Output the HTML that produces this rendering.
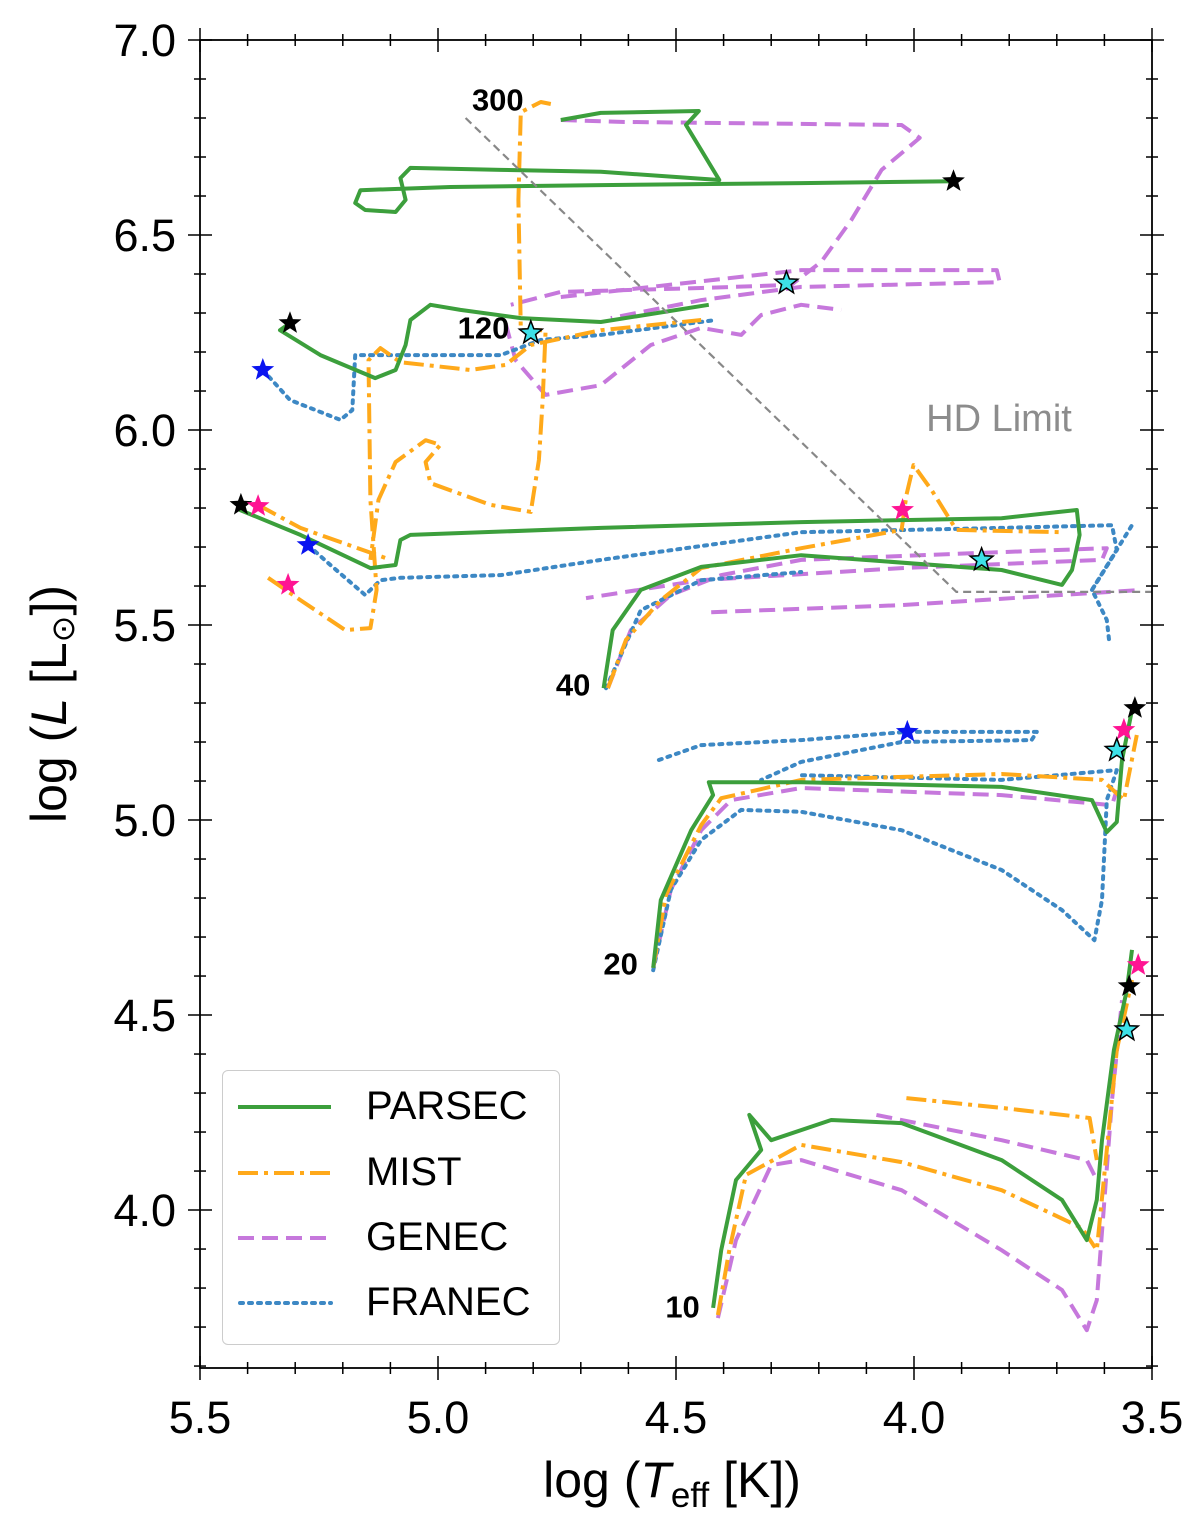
<!DOCTYPE html>
<html><head><meta charset="utf-8"><style>
body{margin:0;background:#fff;}
svg{display:block;font-family:"Liberation Sans","DejaVu Sans",sans-serif;}
</style></head><body>
<svg id="chart" width="1200" height="1519" viewBox="0 0 1200 1519"></svg>
<script>
// ---- data (logTeff, logL) ----
const xTicks = [5.5, 5.0, 4.5, 4.0, 3.5];
const xTickLabels = ["5.5", "5.0", "4.5", "4.0", "3.5"];
const yTicks = [4.0, 4.5, 5.0, 5.5, 6.0, 6.5, 7.0];
const yTickLabels = ["4.0", "4.5", "5.0", "5.5", "6.0", "6.5", "7.0"];

const parsec300 = [[3.917,6.638],[4.237,6.633],[4.658,6.628],[4.974,6.623],[5.163,6.615],[5.174,6.582],[5.153,6.564],[5.089,6.559],[5.068,6.590],[5.079,6.646],[5.058,6.672],[4.868,6.667],[4.658,6.662],[4.409,6.641],[4.447,6.718],[4.479,6.782],[4.452,6.818],[4.658,6.813],[4.742,6.795]];
const parsec120 = [[5.311,6.274],[5.332,6.256],[5.247,6.192],[5.132,6.133],[5.089,6.154],[5.068,6.218],[5.058,6.282],[5.016,6.321],[4.953,6.308],[4.826,6.287],[4.658,6.277],[4.431,6.321]];
const parsec40 = [[5.414,5.808],[5.416,5.795],[5.289,5.731],[5.142,5.646],[5.089,5.654],[5.079,5.718],[5.058,5.731],[4.658,5.749],[4.237,5.764],[3.816,5.774],[3.658,5.795],[3.652,5.731],[3.668,5.641],[3.689,5.603],[3.816,5.641],[4.237,5.679],[4.447,5.649],[4.574,5.590],[4.633,5.487],[4.652,5.338]];
const parsec20 = [[4.548,4.621],[4.532,4.795],[4.468,4.974],[4.422,5.064],[4.431,5.097],[4.237,5.097],[3.816,5.085],[3.626,5.051],[3.595,4.969],[3.574,4.995],[3.563,5.154],[3.542,5.282]];
const parsec10 = [[4.422,3.749],[4.405,3.897],[4.374,4.077],[4.321,4.154],[4.346,4.244],[4.300,4.179],[4.174,4.231],[4.026,4.223],[3.816,4.128],[3.689,4.026],[3.637,3.923],[3.616,4.026],[3.605,4.179],[3.580,4.410],[3.553,4.564],[3.542,4.667]];

const mist300 = [[4.763,6.836],[4.784,6.841],[4.826,6.815],[4.831,6.590],[4.826,6.256],[4.774,6.256],[4.780,6.077],[4.788,5.923],[4.805,5.790],[4.889,5.808],[5.016,5.864],[5.026,5.918],[4.995,5.962],[5.026,5.974],[5.089,5.918],[5.125,5.821],[5.142,5.667]];
const mist120 = [[5.357,5.621],[5.289,5.564],[5.195,5.487],[5.142,5.492],[5.129,5.590],[5.142,5.821],[5.146,6.179],[5.121,6.210],[5.079,6.174],[4.932,6.154],[4.858,6.167],[4.805,6.218],[4.658,6.256],[4.447,6.282]];
const mist40a = [[5.378,5.808],[5.289,5.749],[5.111,5.672]];
const mist40b = [[4.643,5.338],[4.605,5.462],[4.532,5.564],[4.447,5.646],[4.237,5.697],[4.026,5.744],[4.016,5.833],[4.001,5.910],[3.963,5.846],[3.911,5.744],[3.689,5.738]];
const mist20 = [[4.548,4.621],[4.521,4.808],[4.447,4.987],[4.405,5.056],[4.237,5.103],[3.816,5.118],[3.605,5.103],[3.559,5.051],[3.532,5.218]];
const mist10 = [[4.412,3.731],[4.388,3.897],[4.353,4.090],[4.237,4.167],[4.026,4.123],[3.816,4.051],[3.647,3.954],[3.616,3.897],[3.595,4.154],[3.574,4.410],[3.542,4.590]];
const mist10b = [[4.016,4.287],[3.816,4.262],[3.631,4.236],[3.616,4.128]];

const genec300a = [[4.742,6.795],[4.616,6.790],[4.026,6.782],[3.988,6.749],[4.068,6.667],[4.132,6.538],[4.195,6.431],[4.258,6.372],[4.447,6.364],[4.742,6.354],[4.847,6.321]];
const genec300b = [[4.742,6.341],[4.237,6.410],[3.826,6.410],[3.820,6.379],[4.237,6.367],[4.447,6.333],[4.637,6.287]];
const genec120 = [[4.858,6.274],[4.837,6.179],[4.774,6.090],[4.658,6.115],[4.553,6.218],[4.447,6.262],[4.363,6.244],[4.321,6.295],[4.237,6.321],[4.153,6.308]];
const genec40 = [[4.643,5.338],[4.595,5.487],[4.511,5.577],[4.405,5.628],[4.237,5.667],[3.816,5.687],[3.595,5.697],[3.605,5.667],[4.026,5.646],[4.447,5.615],[4.689,5.569]];
const genec40b = [[4.426,5.533],[4.026,5.551],[3.521,5.590]];
const genec20 = [[4.548,4.621],[4.511,4.821],[4.447,4.974],[4.384,5.051],[4.237,5.082],[3.816,5.064],[3.584,5.038],[3.574,5.077]];
const genec10 = [[4.412,3.723],[4.374,3.923],[4.300,4.115],[4.237,4.128],[4.026,4.051],[3.816,3.897],[3.689,3.795],[3.637,3.692],[3.616,3.769],[3.584,4.282],[3.563,4.538]];
const genec10b = [[4.079,4.244],[3.816,4.179],[3.637,4.128],[3.616,4.077]];

const franec120 = [[5.368,6.154],[5.311,6.077],[5.205,6.026],[5.180,6.051],[5.174,6.192],[5.037,6.192],[4.868,6.192],[4.784,6.231],[4.658,6.244],[4.416,6.282]];
const franec40 = [[5.273,5.705],[5.226,5.654],[5.153,5.577],[5.121,5.615],[5.079,5.621],[4.868,5.628],[4.658,5.667],[4.237,5.738],[3.816,5.749],[3.584,5.756],[3.574,5.692],[3.626,5.590],[3.595,5.513],[3.589,5.449]];
const franec40b = [[4.647,5.338],[4.574,5.538],[4.447,5.615],[4.237,5.636]];
const franec40c = [[3.626,5.590],[3.542,5.756]];
const franec20a = [[4.536,5.154],[4.447,5.192],[4.237,5.205],[4.016,5.226],[3.742,5.226],[3.753,5.205],[4.026,5.200],[4.237,5.149],[4.321,5.103]];
const franec20 = [[4.548,4.615],[4.511,4.821],[4.447,4.949],[4.363,5.026],[4.237,5.021],[4.026,4.974],[3.816,4.872],[3.689,4.769],[3.621,4.692],[3.605,4.795],[3.600,4.923],[3.595,5.051],[3.574,5.128],[3.816,5.103],[4.237,5.115]];

const blackStars = [[3.917,6.638],[5.311,6.274],[5.414,5.808],[3.536,5.287],[3.548,4.574]];
const pinkStars = [[5.378,5.805],[5.315,5.603],[4.024,5.795],[3.559,5.231],[3.529,4.628]];
const blueStars = [[5.368,6.154],[5.273,5.705],[4.014,5.226]];
const cyanStars = [[4.268,6.377],[4.805,6.249],[3.858,5.667],[3.574,5.179],[3.553,4.462]];
const hdLimit = [[4.942,6.80],[3.911,5.585],[3.5,5.585]];
const massLabels = ["300","120","40","20","10"];
const massLabelPos = [[4.82,6.845],[4.85,6.26],[4.68,5.345],[4.58,4.63],[4.45,3.75]];

// ---- axes ----
const X0=200,X1=1152,Y0=40,Y1=1368;
const xmin=5.5,xmax=3.5,ymin=3.595,ymax=7.0;
const sx=v=>X0+(xmin-v)/(xmin-xmax)*(X1-X0);
const sy=v=>Y1-(v-ymin)/(ymax-ymin)*(Y1-Y0);
const NS="http://www.w3.org/2000/svg";
const svg=document.getElementById('chart');
function mk(tag,attrs,parent){const e=document.createElementNS(NS,tag);for(const k in attrs)e.setAttribute(k,attrs[k]);(parent||svg).appendChild(e);return e;}
const pts=a=>a.map(p=>sx(p[0]).toFixed(1)+","+sy(p[1]).toFixed(1)).join(" ");

const plot=mk('g',{});



const styles={
 parsec:{stroke:'#3c9f3c',dash:''},
 mist:{stroke:'#ffa91a',dash:'20,6,4,6'},
 genec:{stroke:'#c678dc',dash:'16,8'},
 franec:{stroke:'#3d88c4',dash:'3,6'}
};
function track(arr,s,name){
 const e=mk('polyline',{points:pts(arr),fill:'none',stroke:styles[s].stroke,'stroke-width':4,'stroke-dasharray':styles[s].dash,'stroke-linecap':s==='franec'?'round':'butt','stroke-linejoin':'round'},plot);
 
 
}
track(genec300a,'genec','genec-300-track');track(genec300b,'genec','genec-300-track-b');track(genec120,'genec','genec-120-track');
track(genec40,'genec','genec-40-track');track(genec40b,'genec','genec-40-track-b');track(genec20,'genec','genec-20-track');
track(genec10,'genec','genec-10-track');track(genec10b,'genec','genec-10-track-b');
track(franec120,'franec','franec-120-track');track(franec40,'franec','franec-40-track');track(franec40b,'franec','franec-40-track-b');
track(franec40c,'franec','franec-40-track-c');track(franec20a,'franec','franec-20-track-a');track(franec20,'franec','franec-20-track');
track(mist300,'mist','mist-300-track');track(mist120,'mist','mist-120-track');track(mist40a,'mist','mist-40-track-a');
track(mist40b,'mist','mist-40-track');track(mist20,'mist','mist-20-track');track(mist10,'mist','mist-10-track');track(mist10b,'mist','mist-10-track-b');
track(parsec300,'parsec','parsec-300-track');track(parsec120,'parsec','parsec-120-track');track(parsec40,'parsec','parsec-40-track');
track(parsec20,'parsec','parsec-20-track');track(parsec10,'parsec','parsec-10-track');

const hd=mk('polyline',{points:pts(hdLimit),fill:'none',stroke:'#888','stroke-width':2.2,'stroke-dasharray':'8,5'},plot);


const hdt=mk('text',{x:999,y:431,'font-size':38,fill:'#8c8c8c','text-anchor':'middle'});
hdt.textContent='HD Limit';



function starPath(cx,cy,r){let d='';for(let i=0;i<10;i++){const a=-Math.PI/2+i*Math.PI/5;const rr=i%2?r*0.42:r;d+=(i?'L':'M')+(cx+rr*Math.cos(a)).toFixed(1)+','+(cy+rr*Math.sin(a)).toFixed(1);}return d+'Z';}
function stars(arr,fill,edge,name){arr.forEach(p=>{const e=mk('path',{d:starPath(sx(p[0]),sy(p[1]),12),fill:fill,stroke:edge,'stroke-width':edge==='none'?0:1.5},plot);
 
 });}
stars(blackStars,'#000','none','black-star-marker');
stars(pinkStars,'#ff1493','none','pink-star-marker');
stars(blueStars,'#0a14f0','none','blue-star-marker');
stars(cyanStars,'#3de0e8','#000','cyan-star-marker');

massLabels.forEach((t,i)=>{const e=mk('text',{x:sx(massLabelPos[i][0]),y:sy(massLabelPos[i][1])+10,'font-size':31,'font-weight':'bold','text-anchor':'end'},plot);
 e.textContent=t;
 
 });

// frame & ticks (in-out)
const fr=mk('rect',{x:X0,y:Y0,width:X1-X0,height:Y1-Y0,fill:'none',stroke:'#000','stroke-width':1.8});


for(let v=3.5;v<=5.5001;v+=0.1){const x=sx(v);const maj=Math.abs(v*2-Math.round(v*2))<1e-6;const L=maj?12:6;
 mk('line',{x1:x,y1:Y1+L,x2:x,y2:Y1-L,stroke:'#000','stroke-width':1.5});mk('line',{x1:x,y1:Y0-L,x2:x,y2:Y0+L,stroke:'#000','stroke-width':1.5});}
for(let v=3.6;v<=7.0001;v+=0.1){const y=sy(v);const maj=Math.abs(v*2-Math.round(v*2))<1e-6;const L=maj?12:6;
 mk('line',{x1:X0-L,y1:y,x2:X0+L,y2:y,stroke:'#000','stroke-width':1.5});mk('line',{x1:X1+L,y1:y,x2:X1-L,y2:y,stroke:'#000','stroke-width':1.5});}
xTicks.forEach((v,i)=>{const e=mk('text',{x:sx(v),y:Y1+65,'font-size':45,'text-anchor':'middle'});e.textContent=xTickLabels[i];
 
 });
yTicks.forEach((v,i)=>{const e=mk('text',{x:X0-24,y:sy(v)+16,'font-size':45,'text-anchor':'end'});e.textContent=yTickLabels[i];
 
 });
</script>
<script>
(function(){
const svg=document.getElementById('chart');
const xt=document.createElementNS("http://www.w3.org/2000/svg",'text');
xt.setAttribute('x',672);xt.setAttribute('y',1497);xt.setAttribute('font-size',50);xt.setAttribute('text-anchor','middle');
xt.innerHTML='log (<tspan font-style="italic">T</tspan><tspan font-size="35" dy="10">eff</tspan><tspan dy="-10"> [K])</tspan>';


svg.appendChild(xt);
const yt=document.createElementNS("http://www.w3.org/2000/svg",'text');
yt.setAttribute('transform','translate(66,704) rotate(-90)');yt.setAttribute('font-size',50);yt.setAttribute('text-anchor','middle');
yt.innerHTML='log (<tspan font-style="italic">L</tspan> [L<tspan font-size="32" dy="8">⊙</tspan><tspan dy="-8">])</tspan>';


svg.appendChild(yt);
})();
</script>
<div style="position:absolute;left:222px;top:1070px;width:338px;height:275px;border:1.5px solid #ccc;border-radius:6px;background:#fff;box-sizing:border-box;font-family:'Liberation Sans',sans-serif;font-size:40px;">
 <svg width="338" height="275" style="position:absolute;left:0;top:0">
  <line x1="15" y1="36" x2="108" y2="36" stroke="#3c9f3c" stroke-width="4"/>
  <line x1="15" y1="102" x2="108" y2="102" stroke="#ffa91a" stroke-width="4" stroke-dasharray="20,6,4,6"/>
  <line x1="15" y1="167" x2="108" y2="167" stroke="#c678dc" stroke-width="4" stroke-dasharray="16,8"/>
  <line x1="17" y1="232" x2="108" y2="232" stroke="#3d88c4" stroke-width="4" stroke-dasharray="3,6" stroke-linecap="round"/>
 </svg>
 <div style="position:absolute;left:143px;top:13px">PARSEC</div>
 <div style="position:absolute;left:143px;top:79px">MIST</div>
 <div style="position:absolute;left:143px;top:144px">GENEC</div>
 <div style="position:absolute;left:143px;top:209px">FRANEC</div>
</div>
</body></html>
